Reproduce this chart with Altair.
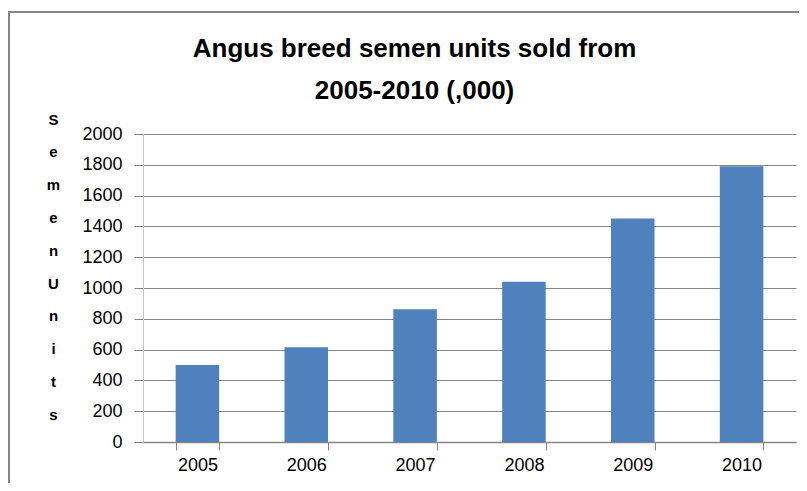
import altair as alt
import pandas as pd

years = ["2005", "2006", "2007", "2008", "2009", "2010"]
units = [500, 615, 862, 1040, 1452, 1790]
y_ticks = [0, 200, 400, 600, 800, 1000, 1200, 1400, 1600, 1800, 2000]
title_lines = ["Angus breed semen units sold from", "2005-2010 (,000)"]
y_title_letters = ["S", "e", "m", "e", "n", "U", "n", "i", "t", "s"]

df = pd.DataFrame({"year": years, "units": units})

FONT = "Liberation Sans"
GRID = "#868686"

bars = alt.Chart(df).mark_bar(color="#4F81BD").encode(
    x=alt.X(
        "year:N",
        sort=years,
        scale=alt.Scale(paddingInner=0.6, paddingOuter=0.3),
        axis=alt.Axis(
            title=None,
            labelAngle=0,
            labelFont=FONT,
            labelFontSize=18,
            labelColor="#000000",
            labelPadding=6,
            tickBand="extent",
            tickSize=8,
            tickColor=GRID,
            tickWidth=1,
            domainColor=GRID,
            domainWidth=1.5,
            grid=False,
        ),
    ),
    y=alt.Y(
        "units:Q",
        scale=alt.Scale(domain=[0, 2000], nice=False),
        axis=alt.Axis(
            values=y_ticks,
            format="d",
            title=y_title_letters,
            titleAngle=0,
            titleX=-90,
            titleY=-22,
            titleAlign="center",
            titleBaseline="top",
            titleLineHeight=32.8,
            titleFont=FONT,
            titleFontSize=15,
            titleFontWeight="bold",
            titleColor="#000000",
            labelFont=FONT,
            labelFontSize=18,
            labelColor="#000000",
            labelPadding=12,
            tickSize=9,
            tickColor=GRID,
            tickWidth=1,
            domainColor="#C8C8C8",
            domainWidth=1,
            gridColor=GRID,
            gridWidth=1,
        ),
    ),
)

border = alt.Chart(pd.DataFrame({"b": [0]})).mark_rect(
    filled=False, stroke=GRID, strokeWidth=2
).encode(
    x=alt.value(-134),
    x2=alt.value(720),
    y=alt.value(-122),
    y2=alt.value(520),
)

chart = alt.layer(border, bars).properties(
    width=653,
    height=308,
    autosize=alt.AutoSizeParams(type="none"),
    padding={"left": 135, "top": 126, "right": 3, "bottom": 41},
    title=alt.TitleParams(
        title_lines,
        font=FONT,
        fontSize=26,
        fontWeight="bold",
        color="#000000",
        lineHeight=42,
        anchor="middle",
        frame="group",
        dx=-55,
        offset=-93,
    ),
).configure_view(stroke=None)

chart.save("out.html", embed_options={"renderer": "svg", "actions": False})
